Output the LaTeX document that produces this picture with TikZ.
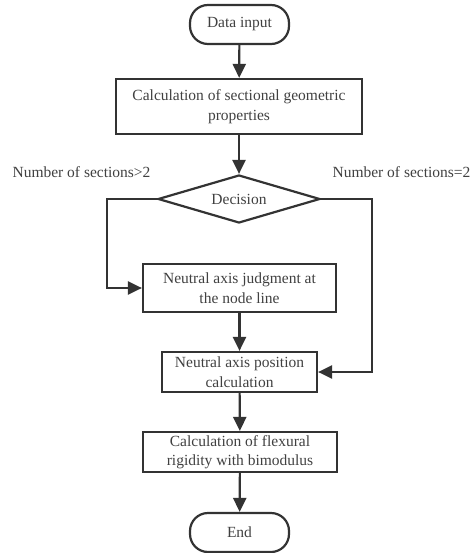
\documentclass[tikz,border=0pt]{standalone}
\usepackage{fontspec}
\setmainfont{Liberation Serif}
\usepackage{xcolor}
\usetikzlibrary{positioning,shapes.geometric,arrows.meta}

\definecolor{linegray}{HTML}{333333}
\definecolor{textgray}{HTML}{404040}

\tikzset{
  flow/.style={draw=linegray, line width=2.2pt, text=textgray, align=center,
    font=\fontsize{15.5}{19.5}\selectfont, inner sep=0pt},
  terminal/.style={flow, rounded corners=18pt, minimum width=99pt, minimum height=39pt},
  process/.style={flow, rectangle},
  decision/.style={flow, diamond, aspect=3.4, minimum width=162pt, minimum height=48pt},
  cond/.style={text=textgray, font=\fontsize{15.5}{19.5}\selectfont, inner sep=0pt},
  link/.style={draw=linegray, line width=2.2pt, -{Triangle[length=14pt,width=13pt]}},
}

\begin{document}
\begin{tikzpicture}[x=1pt,y=-1pt]
\useasboundingbox (0,0) rectangle (473,553);
% nodes
\node[terminal] (in) at (239.5,24.5) {Data input};
\node[process, minimum width=246pt, minimum height=55pt] (geo) at (239,106.5) {Calculation of sectional geometric\\properties};
\node[decision] (dec) at (239,199) {Decision};
\node[process, minimum width=193pt, minimum height=48pt] (judge) at (239.5,288) {Neutral axis judgment at\\the node line};
\node[process, minimum width=155pt, minimum height=40pt] (pos) at (239.5,372) {Neutral axis position\\calculation};
\node[process, minimum width=194pt, minimum height=40pt] (flex) at (240,452) {Calculation of flexural\\rigidity with bimodulus};
\node[terminal] (end) at (239.5,532.5) {End};
% conditions
\node[cond] (gt) at (81.5,172) {Number of sections>2};
\node[cond] (eq) at (401.5,172) {Number of sections=2};
\coordinate (lbend) at (107,199);
\coordinate (rbend) at (372,199);
% connectors
\draw[link] (in) -- (geo);
\draw[link] (geo) -- (dec);
\draw[link] (dec.west) -- (lbend) |- (judge.west);
\draw[link] (dec.east) -- (rbend) |- (pos.east);
\draw[link] (judge) -- (pos);
\draw[link] (pos) -- (flex);
\draw[link] (flex) -- (end);
\end{tikzpicture}
\end{document}
